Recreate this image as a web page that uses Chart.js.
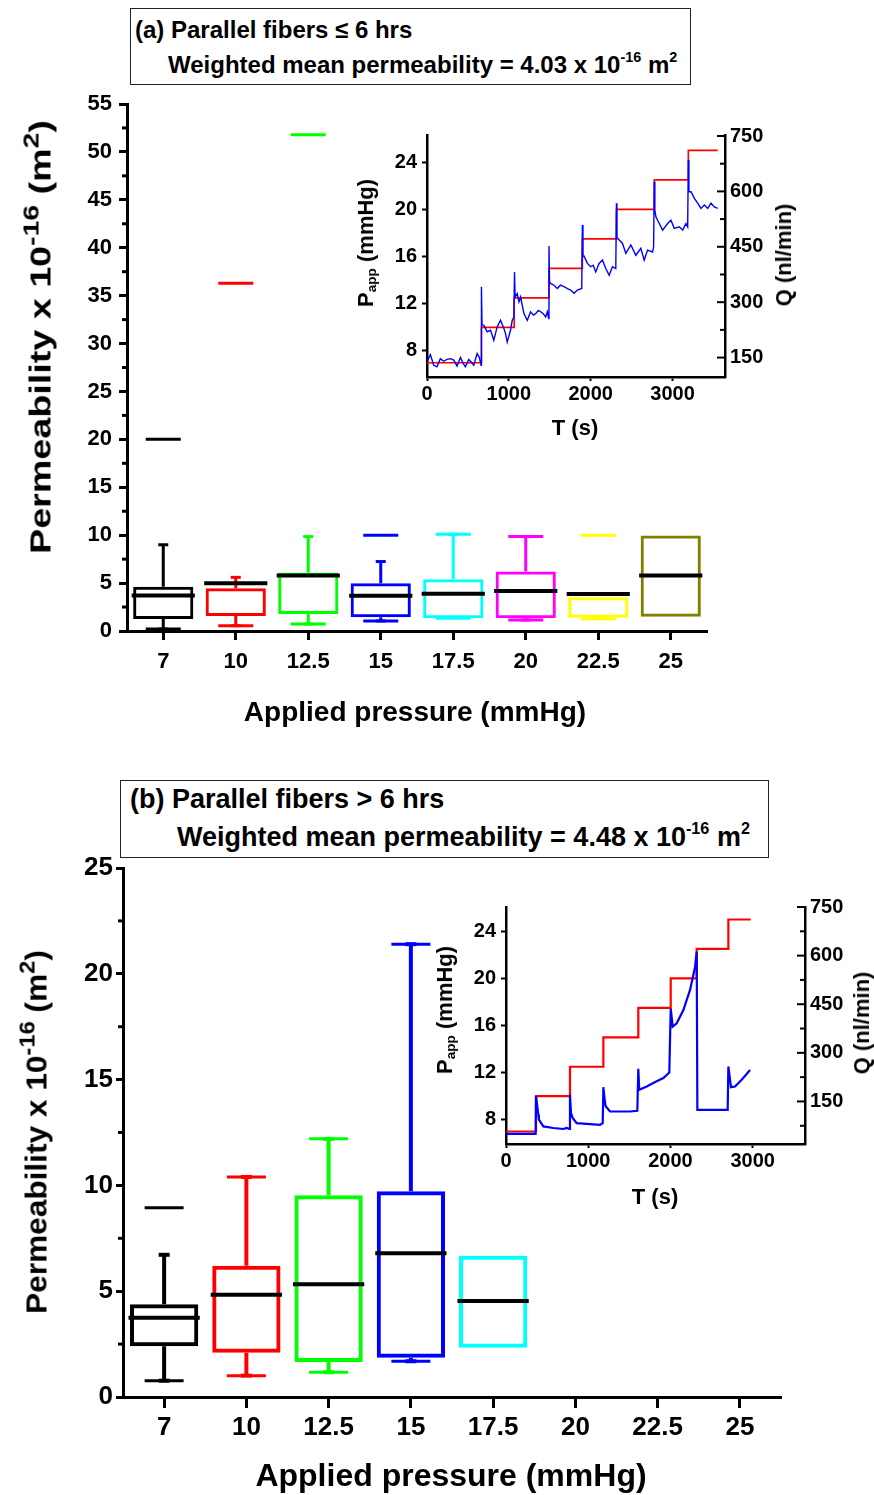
<!DOCTYPE html>
<html><head><meta charset="utf-8">
<script src="https://cdn.jsdelivr.net/npm/chart.js@4/dist/chart.umd.min.js"></script>
<style>
html,body{margin:0;padding:0;background:#fff;}
body{width:874px;height:1495px;position:relative;overflow:hidden;font-family:'Liberation Sans',Arial,sans-serif;font-weight:bold;color:#000;}
canvas{position:absolute;}
.t{position:absolute;white-space:nowrap;line-height:1;}
.c{transform:translate(-50%,-50%);}
.r{transform:translate(-50%,-50%) rotate(-90deg);}
.box{position:absolute;border:1.5px solid #222;box-sizing:border-box;}
sup{font-size:0.6em;vertical-align:0.75em;line-height:0;}
.big sup{font-size:0.75em;vertical-align:0.55em;}
sub{font-size:0.62em;vertical-align:-0.25em;line-height:0;}
</style></head>
<body>
<div class="box" style="left:130px;top:8px;width:561px;height:77px;"></div>
<div class="t" style="left:135px;top:18px;font-size:24px;">(a) Parallel fibers ≤ 6 hrs</div>
<div class="t" style="left:168px;top:53px;font-size:24px;">Weighted mean permeability = 4.03 x 10<sup>-16</sup> m<sup>2</sup></div>

<div class="box" style="left:120px;top:780px;width:649px;height:78px;"></div>
<div class="t" style="left:130px;top:786px;font-size:27px;">(b) Parallel fibers &gt; 6 hrs</div>
<div class="t" style="left:177px;top:824px;font-size:27px;">Weighted mean permeability = 4.48 x 10<sup>-16</sup> m<sup>2</sup></div>

<canvas id="cA" width="874" height="740" style="left:0;top:0;"></canvas>
<canvas id="cB" width="874" height="755" style="left:0;top:740px;"></canvas>
<canvas id="iA" width="480" height="340" style="left:330px;top:110px;"></canvas>
<canvas id="iB" width="464" height="350" style="left:410px;top:880px;"></canvas>

<div class="t big" style="left:41px;top:337px;font-size:29px;transform:translate(-50%,-50%) rotate(-90deg) scaleX(1.3);">Permeability x 10<sup>-16</sup> (m<sup>2</sup>)</div>
<div class="t c" style="left:415px;top:712px;font-size:28px;">Applied pressure (mmHg)</div>
<div class="t big" style="left:37px;top:1132px;font-size:29px;transform:translate(-50%,-50%) rotate(-90deg) scaleX(1.09);">Permeability x 10<sup>-16</sup> (m<sup>2</sup>)</div>
<div class="t c" style="left:451px;top:1475px;font-size:32px;">Applied pressure (mmHg)</div>

<div class="t r" style="left:366px;top:243px;font-size:22px;">P<sub>app</sub> (mmHg)</div>
<div class="t r" style="left:784px;top:255px;font-size:22px;">Q (nl/min)</div>
<div class="t c" style="left:575px;top:428px;font-size:22px;">T (s)</div>
<div class="t r" style="left:445px;top:1010px;font-size:22px;">P<sub>app</sub> (mmHg)</div>
<div class="t r" style="left:862px;top:1023px;font-size:22px;">Q (nl/min)</div>
<div class="t c" style="left:655px;top:1197px;font-size:22px;">T (s)</div>

<script>
// ---------- data ----------
const pressureCats = ['7','10','12.5','15','17.5','20','22.5','25'];
const boxColors = ['#000000','#ff0000','#00ff00','#0000ff','#00ffff','#ff00ff','#ffff00','#808000'];

// panel (a)  parallel fibers <= 6 hrs
const q1A    = [1.25, 1.57, 1.78, 1.43, 1.33, 1.33, 1.39, 1.50];
const q3A    = [4.63, 4.46, 6.10, 4.98, 5.40, 6.20, 3.52, 9.96];
const medA   = [3.70, 4.98, 5.78, 3.69, 3.90, 4.18, 3.87, 5.78];
const wLoA   = [0.20, 0.55, 0.73, 1.05, 1.33, 1.15, 1.29, 1.50];
const wHiA   = [9.00, 5.60, 9.85, 7.25, 10.1, 9.85, 3.52, 9.96];
const maxA   = [20.0, 36.3, 51.8, 10.0, 10.1, 9.85, 10.0, null];
const minA   = [0.20, 0.55, 0.73, 1.05, 1.33, 1.15, 1.29, null];
const minorA = [2.5,7.5,12.5,17.5,22.5,27.5,32.5,37.5,42.5,47.5,52.5];

// panel (b)  parallel fibers > 6 hrs
const q1B    = [2.40, 2.09, 1.65, 1.85, 2.33, null, null, null];
const q3B    = [4.38, 6.20, 9.53, 9.72, 6.68, null, null, null];
const medB   = [3.75, 4.83, 5.33, 6.79, 4.54, null, null, null];
const wLoB   = [0.77, 1.01, 1.17, 1.69, 2.33, null, null, null];
const wHiB   = [6.72, 10.4, 12.2, 21.4, 6.68, null, null, null];
const maxB   = [8.94, 10.4, 12.2, 21.4, null, null, null, null];
const minB   = [0.77, 1.01, 1.17, 1.69, null, null, null, null];
const minorB = [2.5,7.5,12.5,17.5,22.5];

// inset (a): applied pressure steps (mmHg) and flow Q (nl/min) vs time (s)
const tRedA = [0, 665, 1065, 1490, 1898, 2314, 2776, 3192, 3551];
const pRedA = [7, 10, 12.5, 15, 17.5, 20, 22.5, 25, 25];
const tBlueA = [8,41,82,122,163,204,245,286,327,367,408,440,469,510,540,571,612,640,661,
  665,672,694,735,776,816,857,898,939,959,980,1020,1041,1061,
  1069,1076,1102,1123,1143,1184,1225,1265,1300,1327,1360,1388,1420,1449,1470,1486,
  1490,1497,1510,1551,1592,1630,1674,1715,1755,1796,1837,1890,
  1898,1905,1918,1959,2000,2030,2061,2102,2143,2184,2225,2265,2306,
  2314,2320,2327,2388,2429,2490,2551,2612,2653,2694,2755,2768,
  2776,2783,2796,2837,2878,2939,2980,3020,3082,3123,3163,3184,
  3192,3199,3225,3266,3306,3347,3388,3429,3469,3510,3551];
const qBlueA = [143,158,129,125,147,140,145,147,143,127,150,135,125,145,138,129,161,150,129,
  342,238,238,220,224,197,233,251,229,215,192,224,251,260,
  382,314,323,301,314,269,251,274,265,269,278,274,269,260,274,256,
  452,355,351,346,337,346,342,337,333,324,333,337,
  509,423,425,405,396,400,382,405,414,391,373,396,391,
  568,473,473,459,432,455,427,446,414,441,436,450,
  626,549,531,513,495,513,522,500,504,495,513,504,
  685,599,599,581,568,554,563,554,568,558,554];
const xTicksInset = [0,1000,2000,3000];
const pTicksInset = [8,12,16,20,24];
const qTicksInset = [150,300,450,600,750];
const qMinorA = [225,375,525,675];

// inset (b)
const tRedB = [0, 365, 778, 1184, 1609, 2003, 2319, 2704, 2975];
const pRedB = [7, 10, 12.5, 15, 17.5, 20, 22.5, 25, 25];
const tBlueB = [0,360,365,393,400,454,576,697,738,770,
  778,790,811,859,1022,1143,1176,
  1184,1200,1212,1265,1508,1597,
  1609,1620,1711,1832,1914,1986,
  2003,2027,2076,2157,2238,2299,2319,
  2327,2696,2704,2736,2785,2866,2968];
const qBlueB = [50,50,167,109,94,73,68,65,68,65,
  171,114,99,83,80,78,83,
  194,155,135,119,119,121,
  251,186,196,212,222,239,
  437,381,391,432,494,565,612,
  124,124,258,194,196,217,247];
const qMinorB = [75,225,375,525,675];

// ---------- helpers / plugins ----------
Chart.defaults.font.family = "'Liberation Sans', Arial, sans-serif";
Chart.defaults.font.weight = 'bold';
Chart.defaults.color = '#000';

const boxExtras = {
  id: 'boxExtras',
  afterDatasetsDraw(chart, args, o) {
    if (!o || !o.q1) return;
    const {ctx} = chart, x = chart.scales.x, y = chart.scales.y;
    const catW = x.getPixelForValue(1) - x.getPixelForValue(0);
    const boxW = catW * o.barPct;
    const hl = (cx, v, w, lw, col) => {
      const py = y.getPixelForValue(v);
      ctx.strokeStyle = col; ctx.lineWidth = lw;
      ctx.beginPath(); ctx.moveTo(cx - w/2, py); ctx.lineTo(cx + w/2, py); ctx.stroke();
    };
    ctx.save();
    ctx.lineCap = 'butt';
    o.q1.forEach((q1, i) => {
      if (q1 == null) return;
      const cx = x.getPixelForValue(i), col = o.colors[i];
      ctx.strokeStyle = col; ctx.lineWidth = o.lw;
      ctx.beginPath();
      ctx.moveTo(cx, y.getPixelForValue(o.q3[i])); ctx.lineTo(cx, y.getPixelForValue(o.wHi[i]));
      ctx.moveTo(cx, y.getPixelForValue(q1)); ctx.lineTo(cx, y.getPixelForValue(o.wLo[i]));
      ctx.stroke();
      if (o.wHi[i] > o.q3[i]) hl(cx, o.wHi[i], o.capW, o.lw, col);
      if (o.wLo[i] < q1) hl(cx, o.wLo[i], o.capW, o.lw, col);
      if (o.maxV[i] != null) hl(cx, o.maxV[i], o.extW, o.extLw, col);
      if (o.minV[i] != null) hl(cx, o.minV[i], o.extW, o.extLw, col);
      hl(cx, o.med[i], boxW + 3, o.medLw, '#000');
    });
    ctx.restore();
  }
};

const minorTicks = {
  id: 'minorTicks',
  afterDraw(chart, args, o) {
    if (!o || !o.list) return;
    const {ctx, chartArea} = chart;
    ctx.save();
    ctx.strokeStyle = '#000';
    o.list.forEach(m => {
      const s = chart.scales[m.scale];
      ctx.lineWidth = m.width;
      m.values.forEach(v => {
        const p = s.getPixelForValue(v);
        ctx.beginPath();
        if (m.scale === 'x') {
          ctx.moveTo(p, chartArea.bottom); ctx.lineTo(p, chartArea.bottom + m.dir * m.len);
        } else {
          const x0 = s.position === 'right' ? chartArea.right : chartArea.left;
          ctx.moveTo(x0, p); ctx.lineTo(x0 + m.dir * m.len, p);
        }
        ctx.stroke();
      });
    });
    ctx.restore();
  }
};

const setTicks = arr => (s => { s.ticks = arr.map(v => ({value: v})); });
const plainLabel = v => String(v);

function mainChart(id, o) {
  return new Chart(document.getElementById(id), {
    type: 'bar',
    data: {
      labels: pressureCats,
      datasets: [{
        data: o.q1.map((v, i) => v == null ? null : [v, o.q3[i]]),
        backgroundColor: 'rgba(0,0,0,0)',
        borderColor: boxColors,
        borderWidth: o.lw,
        borderSkipped: false,
        barPercentage: o.barPct,
        categoryPercentage: 1
      }]
    },
    options: {
      responsive: false, animation: false, events: [],
      layout: {padding: o.pad},
      plugins: {
        legend: {display: false}, tooltip: {enabled: false},
        boxExtras: {q1: o.q1, q3: o.q3, med: o.med, wLo: o.wLo, wHi: o.wHi, maxV: o.maxV, minV: o.minV,
          colors: boxColors, barPct: o.barPct, lw: o.lw, capW: o.capW, extW: o.extW, extLw: o.extLw, medLw: o.medLw},
        minorTicks: {list: [{scale: 'y', values: o.minor, len: o.minorLen, dir: -1, width: o.axLw}]}
      },
      scales: {
        x: {
          offset: true,
          grid: {display: true, offset: false, drawOnChartArea: false, tickLength: o.xTick, tickWidth: o.axLw, tickColor: '#000'},
          border: {display: true, color: '#000', width: o.axLw},
          ticks: {font: {size: o.xFont, weight: 'bold'}, color: '#000', padding: o.xPad, autoSkip: false, maxRotation: 0},
          afterFit: s => { s.height = o.xH; }
        },
        y: {
          min: 0, max: o.ymax,
          grid: {display: true, drawOnChartArea: false, tickLength: o.yTick, tickWidth: o.axLw, tickColor: '#000'},
          border: {display: true, color: '#000', width: o.axLw},
          ticks: {stepSize: 5, font: {size: o.yFont, weight: 'bold'}, color: '#000', padding: o.yPad},
          afterFit: s => { s.width = o.yW; }
        }
      }
    },
    plugins: [boxExtras, minorTicks]
  });
}

mainChart('cA', {q1: q1A, q3: q3A, med: medA, wLo: wLoA, wHi: wHiA, maxV: maxA, minV: minA, minor: minorA,
  pad: {left: 0, right: 167, top: 104, bottom: 49}, xH: 60, yW: 127, ymax: 55,
  barPct: 0.83, lw: 3, capW: 10, extW: 35, extLw: 3, medLw: 4, axLw: 3,
  xTick: 9, xPad: 9, xFont: 22, yTick: 8, yPad: 7, yFont: 22, minorLen: 5});

mainChart('cB', {q1: q1B, q3: q3B, med: medB, wLo: wLoB, wHi: wHiB, maxV: maxB, minV: minB, minor: minorB,
  pad: {left: 0, right: 93, top: 128, bottom: 38}, xH: 60, yW: 123, ymax: 25,
  barPct: 0.83, lw: 4, capW: 11, extW: 39, extLw: 3, medLw: 4, axLw: 3,
  xTick: 11, xPad: 4, xFont: 26, yTick: 7, yPad: 3, yFont: 26, minorLen: 5});

function insetChart(id, o) {
  return new Chart(document.getElementById(id), {
    type: 'scatter',
    data: {
      datasets: [
        {data: o.tBlue.map((t, i) => ({x: t, y: o.qBlue[i]})), yAxisID: 'yQ', showLine: true,
         borderColor: '#0000ff', borderWidth: o.blueLw, pointRadius: 0, tension: 0, order: 1},
        {data: o.tRed.map((t, i) => ({x: t, y: o.pRed[i]})), yAxisID: 'y', showLine: true, stepped: 'before',
         borderColor: '#ff0000', borderWidth: o.redLw, pointRadius: 0, order: 2}
      ]
    },
    options: {
      responsive: false, animation: false, events: [],
      layout: {padding: {left: 0, right: 0, top: o.top, bottom: 0}},
      plugins: {
        legend: {display: false}, tooltip: {enabled: false},
        minorTicks: {list: [
          {scale: 'yQ', values: qTicksInset, len: 8, dir: -1, width: 2},
          {scale: 'yQ', values: o.qMinor, len: 5, dir: -1, width: 2}
        ]}
      },
      scales: {
        x: {
          type: 'linear', min: 0, max: o.xmax,
          afterBuildTicks: setTicks(xTicksInset),
          grid: {display: true, drawOnChartArea: false, tickLength: 4, tickWidth: 2, tickColor: '#000'},
          border: {display: true, color: '#000', width: 2.5},
          ticks: {font: {size: 20, weight: 'bold'}, color: '#000', padding: 1, maxRotation: 0, callback: plainLabel},
          afterFit: s => { s.height = o.xH; }
        },
        y: {
          position: 'left', min: o.pmin, max: o.pmax,
          afterBuildTicks: setTicks(pTicksInset),
          grid: {display: true, drawOnChartArea: false, tickLength: 5, tickWidth: 2, tickColor: '#000'},
          border: {display: true, color: '#000', width: 2.5},
          ticks: {font: {size: 20, weight: 'bold'}, color: '#000', padding: 5, callback: plainLabel},
          afterFit: s => { s.width = o.yW; }
        },
        yQ: {
          position: 'right', min: o.qmin, max: o.qmax,
          afterBuildTicks: setTicks(qTicksInset),
          grid: {display: false, drawTicks: false},
          border: {display: true, color: '#000', width: 2.5},
          ticks: {font: {size: 20, weight: 'bold'}, color: '#000', padding: 5, callback: plainLabel},
          afterFit: s => { s.width = o.qW; }
        }
      }
    },
    plugins: [minorTicks]
  });
}

insetChart('iA', {tRed: tRedA, pRed: pRedA, tBlue: tBlueA, qBlue: qBlueA, qMinor: qMinorA,
  top: 25, xH: 73, yW: 97, qW: 85, xmax: 3640, pmin: 5.79, pmax: 26.3, qmin: 97.4, qmax: 752.7,
  redLw: 1.6, blueLw: 1.4});

insetChart('iB', {tRed: tRedB, pRed: pRedB, tBlue: tBlueB, qBlue: qBlueB, qMinor: qMinorB,
  top: 27, xH: 86, yW: 96, qW: 69, xmax: 3636, pmin: 5.94, pmax: 26.06, qmin: 18.7, qmax: 750,
  redLw: 2.2, blueLw: 2.2});
</script>
</body></html>
